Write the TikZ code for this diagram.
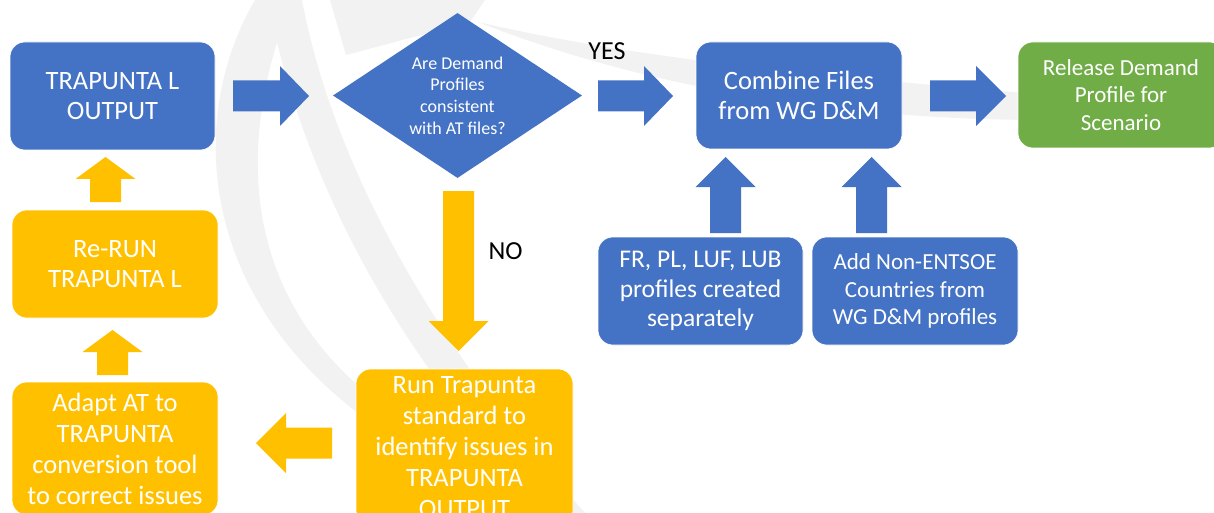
\documentclass[tikz,border=0pt]{standalone}
\usepackage{fontspec}
\setmainfont{Carlito}
\usetikzlibrary{shapes.geometric}
\definecolor{fblue}{HTML}{4472C4}
\definecolor{fyellow}{HTML}{FFC000}
\definecolor{fgreen}{HTML}{70AD47}
\definecolor{wmark}{HTML}{F2F2F2}
\newcommand\blockarr[5]{%
  \fill[#1, shift={#2}, rotate=#3] (0,-15.5) -- (#4-#5,-15.5) -- (#4-#5,-30) -- (#4,0) -- (#4-#5,30) -- (#4-#5,15.5) -- (0,15.5) -- cycle;}
\begin{document}
\begin{tikzpicture}[x=1pt,y=-1pt,
  flowbox/.style={rectangle, rounded corners=15pt, inner sep=0pt, text=white, align=center, draw=white, line width=0.6pt},
  bluebox/.style={flowbox, fill=fblue},
  yellowbox/.style={flowbox, fill=fyellow},
  greenbox/.style={flowbox, fill=fgreen},
  bigfont/.style={font=\fontsize{26.5}{30}\selectfont},
  midfont/.style={font=\fontsize{23}{27.5}\selectfont},
  lbl/.style={text=black, anchor=base, font=\fontsize{26}{30}\selectfont},
  barrowb/.style={fill=fblue},
  barrowy/.style={fill=fyellow}]
\useasboundingbox (0,0) rectangle (1214,513);
\clip (0,0) rectangle (1214,513);
\fill[white] (0,0) rectangle (1214,513);
% watermark
\fill[wmark] (255,0) .. controls (185,120) and (200,300) .. (370,422) -- (378,402) .. controls (245,300) and (232,150) .. (292,0) -- cycle;
\fill[wmark] (302,0) .. controls (330,150) and (420,330) .. (585,513) -- (550,513) .. controls (390,350) and (300,170) .. (268,0) -- cycle;
\fill[wmark] (330,0) -- (346,55) -- (470,22) -- (485,0) -- cycle;
\fill[wmark] (478,22) .. controls (650,62) and (850,78) .. (1060,96) -- (1045,120) .. controls (850,120) and (650,90) .. (478,22) -- cycle;
% nodes
\node[bluebox, bigfont, minimum width=205pt, minimum height=108pt] (A) at (112.5,96) {TRAPUNTA L\\OUTPUT};
\node[diamond, fill=fblue, minimum width=249pt, minimum height=165pt, inner sep=0pt, aspect=1.5, text=white, align=center, font=\fontsize{18}{21.7}\selectfont] (D) at (457.5,95.5) {Are Demand\\Profiles\\consistent\\with AT files?};
\node[bluebox, bigfont, minimum width=206pt, minimum height=107pt] (C) at (799,95.5) {Combine Files\\from WG D\&M};
\node[greenbox, midfont, minimum width=206pt, minimum height=106pt] (R) at (1121,95) {Release Demand\\Profile for\\Scenario};
\node[bluebox, font=\fontsize{25.5}{29.5}\selectfont, minimum width=205pt, minimum height=108pt] (F) at (700.5,291) {FR, PL, LUF, LUB\\profiles created\\separately};
\node[bluebox, midfont, minimum width=206pt, minimum height=108pt] (N) at (915,291) {Add Non-ENTSOE\\Countries from\\WG D\&M profiles};
\node[yellowbox, bigfont, minimum width=206pt, minimum height=108pt] (RR) at (115,264) {Re-RUN\\TRAPUNTA L};
\node[yellowbox, font=\fontsize{26.5}{31}\selectfont, minimum width=206pt, minimum height=133pt] (AD) at (115,448.5) {Adapt AT to\\TRAPUNTA\\conversion tool\\to correct issues};
\node[yellowbox, font=\fontsize{26.5}{31}\selectfont, minimum width=217pt, minimum height=156pt] (RT) at (464.5,447) {Run Trapunta\\standard to\\identify issues in\\TRAPUNTA\\OUTPUT};
\node[lbl] (yes) at (607,60) {YES};
\node[lbl] (no) at (505.5,259) {NO};
% block arrows
\blockarr{barrowb}{(233,96)}{0}{76}{29}
\blockarr{barrowb}{(598,96)}{0}{75}{29}
\blockarr{barrowb}{(930,96)}{0}{76}{30}
\blockarr{barrowb}{(725.5,233)}{90}{76}{30}
\blockarr{barrowb}{(871.5,233)}{90}{76}{30}
\blockarr{barrowy}{(458.5,191)}{-90}{160}{30}
\blockarr{barrowy}{(332,443)}{180}{76}{30}
\blockarr{barrowy}{(105.5,202)}{90}{45}{22}
\blockarr{barrowy}{(112.5,375)}{90}{45}{22}
\end{tikzpicture}
\end{document}
